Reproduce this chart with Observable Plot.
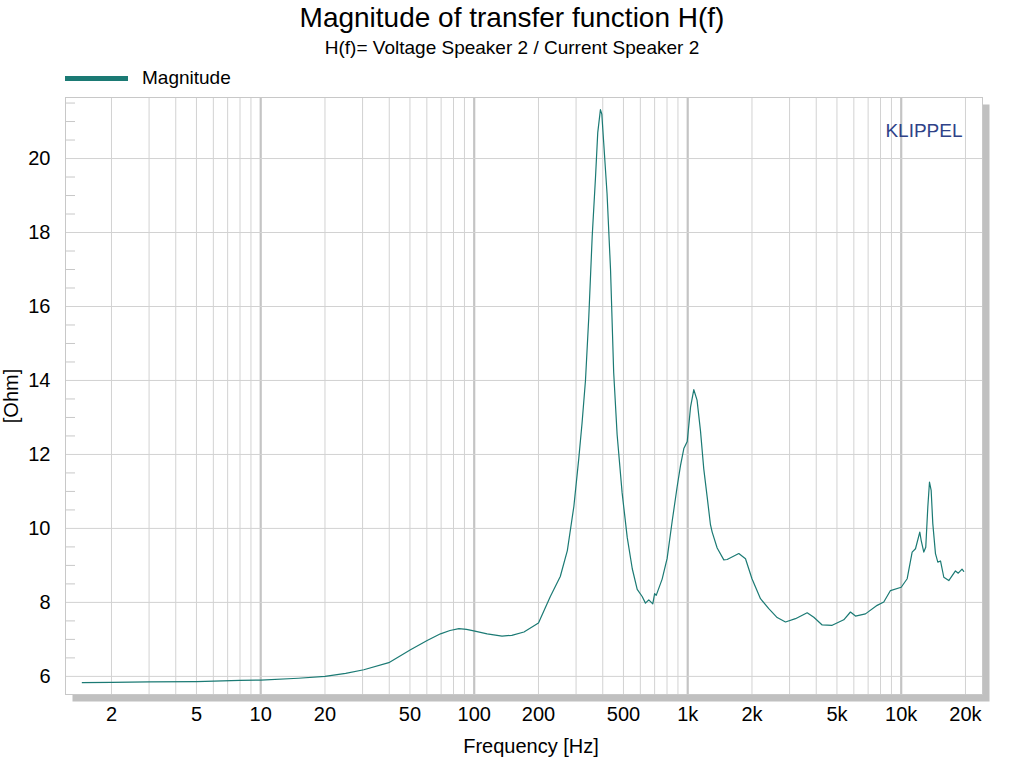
<!DOCTYPE html>
<html>
<head>
<meta charset="utf-8">
<script src="https://cdn.jsdelivr.net/npm/d3@7"></script>
<script src="https://cdn.jsdelivr.net/npm/@observablehq/plot@0.6"></script>
<style>
  html, body { margin: 0; padding: 0; background: #fff; }
  body { width: 1024px; height: 768px; overflow: hidden; font-family: "Liberation Sans", Arial, sans-serif; color: #000; }
  #header { position: relative; height: 88px; }
  #title { position: absolute; left: 0; width: 1024px; top: 1px; text-align: center; font-size: 28px; line-height: 34px; }
  #subtitle { position: absolute; left: 0; width: 1024px; top: 37px; text-align: center; font-size: 19px; line-height: 22px; }
  #legend { position: absolute; left: 65px; top: 67px; height: 22px; display: flex; align-items: center; font-size: 19px; }
  #legend .sw { display: inline-block; width: 63px; height: 5px; background: #1b7a74; margin-right: 14px; }
</style>
</head>
<body>
<div id="header">
  <div id="title">Magnitude of transfer function H(f)</div>
  <div id="subtitle">H(f)= Voltage Speaker 2 / Current Speaker 2</div>
  <div id="legend"><span class="sw"></span><span>Magnitude</span></div>
</div>
<div id="chart"></div>
<script>
const freq = [1.46, 2, 3, 5, 8, 10, 15, 20, 25, 30.4, 39.8, 50.3, 60.2, 69.5, 77, 84.8, 92, 99.5, 115, 135, 150, 171, 200,
  227, 253, 273, 293, 309, 320, 332, 344, 357, 370, 379, 390, 396, 404, 419, 435, 450, 467, 493, 521, 550, 580, 612, 634, 657,
  686, 700, 712, 759, 801, 846, 893, 925, 959, 995, 1031, 1068, 1106, 1148, 1189, 1233, 1278, 1302, 1374, 1476, 1530, 1735,
  1865, 2000, 2192, 2397, 2624, 2871, 3197, 3627, 3896, 4264, 4750, 5383, 5785, 6107, 6801, 7718, 8285, 8906, 10000, 10665,
  11253, 11665, 12218, 12400, 12758, 13030, 13324, 13565, 13812, 14060, 14470, 14840, 15278, 15833, 16706, 17950, 18500, 19270, 19630];
const ohm = [5.83, 5.84, 5.85, 5.86, 5.89, 5.9, 5.95, 6.0, 6.08, 6.18, 6.37, 6.72, 6.97, 7.15, 7.24, 7.29, 7.27, 7.23, 7.15, 7.09, 7.11, 7.2, 7.44,
  8.15, 8.7, 9.4, 10.6, 11.9, 12.85, 14.0, 15.7, 17.9, 19.5, 20.7, 21.32, 21.2, 20.44, 19.05, 17.0, 14.22, 12.54, 10.96, 9.75, 8.91, 8.35, 8.16, 7.98, 8.07,
  7.96, 8.24, 8.19, 8.63, 9.19, 10.2, 11.14, 11.7, 12.16, 12.35, 13.28, 13.75, 13.47, 12.63, 11.61, 10.86, 10.1, 9.9, 9.47, 9.15, 9.16, 9.32,
  9.18, 8.64, 8.1, 7.83, 7.59, 7.47, 7.56, 7.72, 7.6, 7.39, 7.38, 7.53, 7.74, 7.63, 7.69, 7.92, 8.01, 8.32, 8.41, 8.64,
  9.36, 9.45, 9.9, 9.68, 9.36, 9.49, 10.58, 11.25, 11.03, 10.13, 9.32, 9.09, 9.12, 8.68, 8.59, 8.85, 8.79, 8.9, 8.84];

const xTicks = [2, 5, 10, 20, 50, 100, 200, 500, 1000, 2000, 5000, 10000, 20000];
const xTickLabels = ["2", "5", "10", "20", "50", "100", "200", "500", "1k", "2k", "5k", "10k", "20k"];
const yTicks = [6, 8, 10, 12, 14, 16, 18, 20];
const yMinorTicks = [6.5, 7, 7.5, 8.5, 9, 9.5, 10.5, 11, 11.5, 12.5, 13, 13.5, 14.5, 15, 15.5, 16.5, 17, 17.5, 18.5, 19, 19.5, 20.5, 21, 21.5];
const decadeLines = [10, 100, 1000, 10000];
const minorLines = [2,3,4,5,6,7,8,9, 20,30,40,50,60,70,80,90, 200,300,400,500,600,700,800,900,
  2000,3000,4000,5000,6000,7000,8000,9000, 20000];
const xDomain = [1.218, 24030];
const yDomain = [5.51, 21.65];

const data = freq.map((f, i) => ({f, v: ohm[i]}));
const tickData = xTicks.map((t, i) => ({t, label: xTickLabels[i]}));
const lineColor = "#1b7a74";
const gridColor = "#d2d2d2";

const chart = Plot.plot({
  width: 1024,
  height: 680,
  marginTop: 9,
  marginBottom: 74,
  marginLeft: 65,
  marginRight: 42,
  style: {fontFamily: "'Liberation Sans', Arial, sans-serif", fontSize: "20px", color: "#000", background: "#fff"},
  x: {type: "log", domain: xDomain, axis: null},
  y: {domain: yDomain},
  marks: [
    Plot.frame({fill: "#c0c0c0", stroke: "none", dx: 7, dy: 7}),
    Plot.frame({fill: "#fff", stroke: "none"}),
    Plot.ruleX(minorLines, {stroke: gridColor, strokeWidth: 1}),
    Plot.ruleX(decadeLines, {stroke: "#c4c4c4", strokeWidth: 2.2}),
    Plot.ruleY(yTicks, {stroke: gridColor, strokeWidth: 1}),
    Plot.axisY(yMinorTicks, {tickSize: -10, tickFormat: () => "", stroke: "#c8c8c8", label: null}),
    Plot.frame({stroke: "#c8c8c8", strokeWidth: 1}),
    Plot.line(data, {x: "f", y: "v", stroke: lineColor, strokeWidth: 1.2}),
    Plot.text(["KLIPPEL"], {frameAnchor: "top-right", dx: -20, dy: 26, fill: "#2f4288", fontSize: 19, textAnchor: "end"}),
    Plot.axisY(yTicks, {tickSize: 0, tickPadding: 15, fontSize: 20, label: "[Ohm]", labelAnchor: "center", labelOffset: 62, labelArrow: "none"}),
    Plot.text(tickData, {x: "t", text: "label", frameAnchor: "bottom", dy: 26, fontSize: 20}),
    Plot.text(["Frequency [Hz]"], {frameAnchor: "bottom", dx: 7, dy: 58, fontSize: 20})
  ]
});
document.getElementById("chart").appendChild(chart);
</script>
</body>
</html>
